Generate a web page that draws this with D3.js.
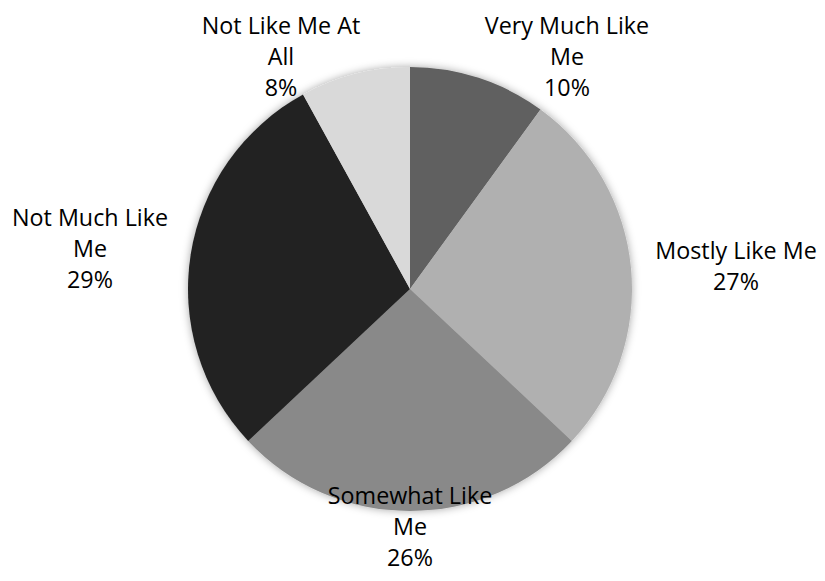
<!DOCTYPE html>
<html><head><meta charset="utf-8">
<script src="https://cdn.jsdelivr.net/npm/d3@7"></script>
<style>body{margin:0;background:#fff}svg{display:block}</style>
</head><body>
<svg id="c" width="825" height="581"></svg>
<script>
const categories = ["Very Much Like Me", "Mostly Like Me", "Somewhat Like Me", "Not Much Like Me", "Not Like Me At All"];
const values = [10, 27, 26, 29, 8];
const labelLines = [["Very Much Like", "Me"], ["Mostly Like Me"], ["Somewhat Like", "Me"], ["Not Much Like", "Me"], ["Not Like Me At", "All"]];
const colors = ["#606060", "#b0b0b0", "#898989", "#232323", "#d9d9d9"];

const svg = d3.select("#c");
const cx = 410, cy = 289, r = 222;
const defs = svg.append("defs");
const f = defs.append("filter").attr("id","sh").attr("x","-10%").attr("y","-10%").attr("width","120%").attr("height","120%");
f.append("feDropShadow").attr("dx",0).attr("dy",0).attr("stdDeviation",4).attr("flood-color","#000").attr("flood-opacity",0.35);

const pie = d3.pie().sort(null).value(d => d)(values);
const arc = d3.arc().innerRadius(0).outerRadius(r);
const g = svg.append("g").attr("transform", `translate(${cx},${cy})`);
g.append("g").attr("filter","url(#sh)").selectAll("path").data(pie).join("path")
  .attr("d", arc).attr("fill", (d,i) => colors[i]);

// label anchor positions (centre of text block), relative to pie centre, per slice
const labelPos = [[157, -232], [326, -23], [0, 238], [-320, -40], [-129, -232]];
const lh = 31;
const total = d3.sum(values);
pie.forEach((d, i) => {
  const lines = labelLines[i].concat([Math.round(values[i] / total * 100) + "%"]);
  const [lx, ly] = labelPos[i];
  const t = g.append("text").attr("text-anchor","middle")
    .attr("font-family","'Open Sans', sans-serif").attr("font-size", 23.3).attr("fill","#000");
  const y0 = ly - (lines.length - 1) * lh / 2;
  lines.forEach((s, k) => t.append("tspan").attr("x", lx).attr("y", y0 + k * lh).attr("dy","0.35em").text(s));
});
</script>
</body></html>
